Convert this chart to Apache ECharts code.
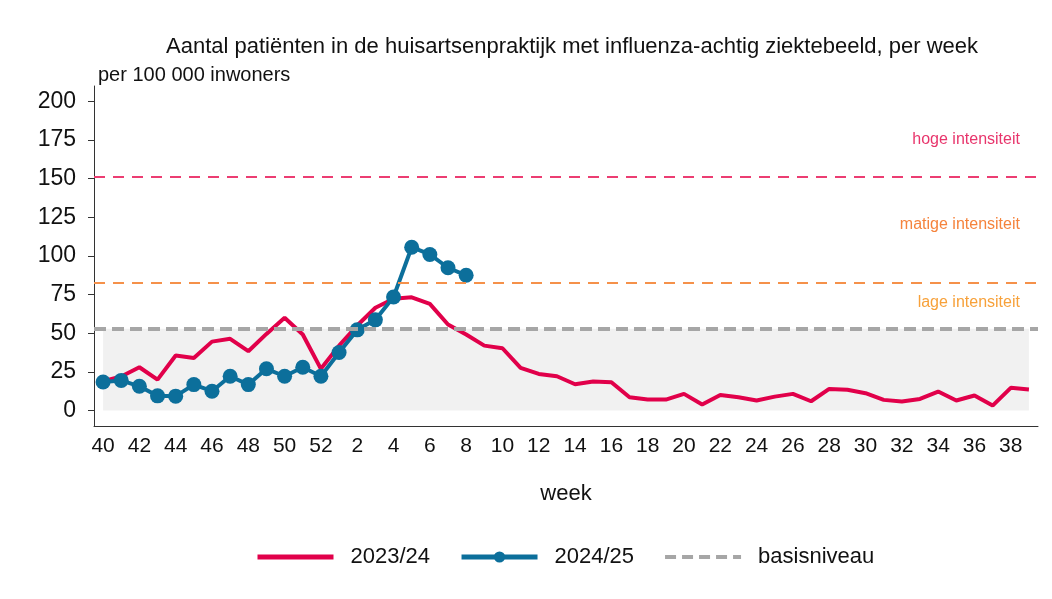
<!DOCTYPE html>
<html>
<head>
<meta charset="utf-8">
<script src="https://cdn.jsdelivr.net/npm/echarts@6/dist/echarts.min.js"></script>
<style>
html,body{margin:0;padding:0;background:#fff;}
#chart{width:1052px;height:599px;}
</style>
</head>
<body>
<div id="chart"></div>
<script>
var weeks = ['40','41','42','43','44','45','46','47','48','49','50','51','52',
  '1','2','3','4','5','6','7','8','9','10','11','12','13','14','15','16','17','18','19','20',
  '21','22','23','24','25','26','27','28','29','30','31','32','33','34','35','36','37','38','39'];
var season2023 = [19,22,28,20,35.6,34,44.6,46.4,38.4,49.6,60,49.2,27,
  42,55,66.5,72.3,73.3,69,55.7,49.2,42,40.3,27.6,23.7,22.2,17,18.8,18.3,8.6,7.1,7.1,10.8,
  3.9,10.1,8.6,6.5,9,10.8,6,14,13.4,11.2,6.9,5.8,7.5,12.3,6.5,9.7,3.2,14.7,13.6];
var season2024 = [18.5,19.5,15.7,9.5,9.3,16.8,12.5,22.2,16.8,27,22.2,28,22.2,
  37.6,52.2,58.7,73.5,105.7,101,92.4,87.5];
var baseLevel = 53;
var mediumThreshold = 83;
var highThreshold = 151;
var yTicks = [0,25,50,75,100,125,150,175,200];
var bandLabels = [
  {text:'hoge intensiteit', value:175, color:'#e8356c'},
  {text:'matige intensiteit', value:120, color:'#f5833c'},
  {text:'lage intensiteit', value:70, color:'#f7a13a'}
];

var RED = '#e1004a', BLUE = '#0c6f9b', GRAY = '#a6a6a6';
var chart = echarts.init(document.getElementById('chart'), null, {renderer:'canvas'});
var FONT = 'Liberation Sans, Arial, sans-serif';

var option = {
  backgroundColor:'#fff',
  animation:false,
  textStyle:{fontFamily:FONT},
  title:[
    {text:'Aantal patiënten in de huisartsenpraktijk met influenza-achtig ziektebeeld, per week',
     left:567, textAlign:'center', top:31,
     textStyle:{fontSize:22, fontWeight:'normal', color:'#111', fontFamily:FONT}},
    {text:'per 100 000 inwoners', left:93, top:60,
     textStyle:{fontSize:20, fontWeight:'normal', color:'#111', fontFamily:FONT}}
  ],
  grid:{left:94, width:944, top:86, height:340},
  legend:{
    bottom:26, left:250, itemWidth:76, itemHeight:14, itemGap:29,
    textStyle:{fontSize:22, color:'#111', fontFamily:FONT, padding:[0,0,0,12]},
    data:[
      {name:'2023/24', itemStyle:{opacity:0}, lineStyle:{width:5, color:RED}},
      {name:'2024/25', lineStyle:{width:5, color:BLUE}},
      {name:'basisniveau', itemStyle:{opacity:0}, lineStyle:{width:4, color:GRAY, type:[11,6]}}
    ]
  },
  xAxis:{
    type:'category', data:weeks, boundaryGap:true,
    name:'week', nameLocation:'middle', nameGap:57,
    nameTextStyle:{fontSize:22, color:'#111'},
    axisLine:{onZero:false, lineStyle:{color:'#333', width:1}},
    axisTick:{interval:0, alignWithLabel:true, length:5, lineStyle:{color:'#333'}},
    axisLabel:{interval:1, fontSize:21, color:'#111', margin:10}
  },
  yAxis:{
    type:'value', min:-10, max:210,
    splitLine:{show:false},
    axisLine:{show:true, lineStyle:{color:'#333', width:1}},
    axisTick:{show:true, length:6, customValues:yTicks, lineStyle:{color:'#333'}},
    axisLabel:{fontSize:23, color:'#111', margin:18, customValues:yTicks}
  },
  graphic: [],
  series:[
    {name:'basisniveau', type:'line', data:[], symbol:'none',
     lineStyle:{color:GRAY, width:4, type:[12,6]},
     itemStyle:{color:GRAY},
     markArea:{silent:true, itemStyle:{color:'#f1f1f1'},
       data:[[{xAxis:weeks[0], yAxis:0},{xAxis:weeks[weeks.length-1], yAxis:baseLevel}]]},
     markLine:{silent:true, symbol:'none', label:{show:false},
       data:[
        {yAxis:highThreshold, lineStyle:{color:'#ec3d72', width:2, type:[11,8]}},
        {yAxis:mediumThreshold, lineStyle:{color:'#f5914a', width:2, type:[11,8]}},
        {yAxis:baseLevel, lineStyle:{color:GRAY, width:4, type:[12,6]}}
       ]}
    },
    {name:'2023/24', type:'line', data:season2023, symbol:'none',
     lineStyle:{color:RED, width:4}, itemStyle:{color:RED}},
    {name:'2024/25', type:'line', data:season2024, symbol:'circle', symbolSize:15,
     showAllSymbol:true,
     lineStyle:{color:BLUE, width:4}, itemStyle:{color:BLUE}}
  ]
};
chart.setOption(option);

// intensity labels positioned at their data values via the axis scale
var gr = bandLabels.map(function(b){
  var p = chart.convertToPixel({gridIndex:0}, [weeks[weeks.length-1], b.value]);
  return {type:'text', x:p[0]-9, y:p[1],
    style:{text:b.text, fill:b.color, font:'16px '+FONT, align:'right', verticalAlign:'middle'}};
});
chart.setOption({graphic:gr});
</script>
</body>
</html>
